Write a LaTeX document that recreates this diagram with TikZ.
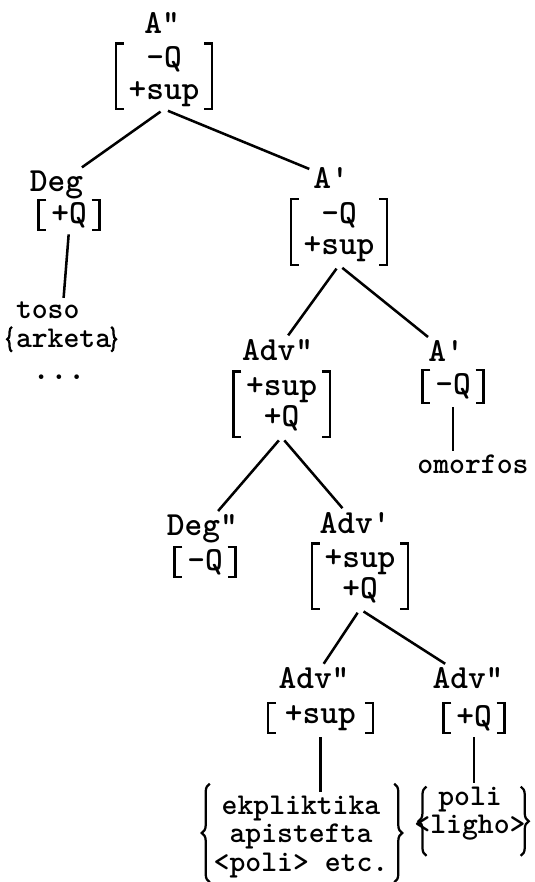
\documentclass[tikz,border=0pt]{standalone}
\usetikzlibrary{decorations.pathreplacing}

\newcommand{\fbrackets}[1]{%
  \draw[brk] ([xshift=0.2cm]#1.north west) -| (#1.south west) -- ++(0.2cm,0)
             ([xshift=-0.2cm]#1.north east) -| (#1.south east) -- ++(-0.2cm,0);}

\begin{document}
\begin{tikzpicture}[every node/.style={font=\fontsize{21.5}{20.5}\selectfont\ttfamily\bfseries, inner sep=0.1cm, outer sep=0pt},
  cat/.style={anchor=base, font=\fontsize{24}{22.5}\selectfont\ttfamily\bfseries},
  feat/.style={minimum height=#1, inner xsep=0.32cm, inner ysep=0pt, align=center, font=\fontsize{24}{22.5}\selectfont\ttfamily\bfseries},
  feat/.default=0.76cm,
  br/.style={line width=1.8pt, shorten <=3pt},
  brk/.style={line width=1.7pt},
  cbrace/.style={decorate, decoration={brace, amplitude=#1}, line width=1.6pt},
  cbrace/.default=0.2cm]
\useasboundingbox (0,0) rectangle (13.375,22.05);

\node[cat] (ahh) at (4.05,21.2) {A"};
\node[feat=1.64cm] (ahhF) at (4.10,20.14) {-Q\\+sup};
\node[cat] (deg) at (1.41,17.25) {Deg};
\node[feat] (degF) at (1.725,16.675) {+Q};
\node[anchor=west, align=left] (toso) at (0.3,13.93) {toso\\arketa};
\node[cat] (dots) at (1.475,12.55) {...};

\node[cat] (ap) at (8.275,17.34) {A\textquotesingle};
\node[feat=1.66cm] (apF) at (8.475,16.25) {-Q\\+sup};
\node[cat] (advhh) at (6.94,13.04) {Adv"};
\node[feat=1.64cm] (advhhF) at (7.04,11.94) {+sup\\+Q};
\node[cat] (apr) at (11.15,13.0) {A\textquotesingle};
\node[feat=0.82cm] (aprF) at (11.325,12.39) {-Q};
\node (omorfos) [anchor=base] at (11.825,10.2) {omorfos};

\node[cat] (degg) at (5.06,8.65) {Deg"};
\node[feat] (deggF) at (5.125,8.0) {-Q};
\node[cat] (advp) at (8.875,8.72) {Adv\textquotesingle};
\node[feat=1.64cm] (advpF) at (9.0,7.64) {+sup\\+Q};

\node[cat] (advhhl) at (7.85,4.83) {Adv"};
\node[feat, minimum width=2.62cm] (advhhlF) at (8.01,4.1) {+sup};
\node[cat] (advhhr) at (11.7,4.83) {Adv"};
\node[feat] (advhhrF) at (11.85,4.1) {+Q};
\node[align=center] (ekpl) at (7.525,1.125) {ekpliktika\\apistefta\\<poli> etc.};
\node[align=center] (poli) at (11.75,1.71) {poli\\<ligho>};

\fbrackets{ahhF}
\fbrackets{degF}
\fbrackets{apF}
\fbrackets{advhhF}
\fbrackets{aprF}
\fbrackets{deggF}
\fbrackets{advpF}
\fbrackets{advhhlF}
\fbrackets{advhhrF}

\draw[br] (ahhF.south) -- (deg);
\draw[br] (ahhF.south) -- (ap);
\draw[br] (degF.south) -- (toso.north);
\draw[br] (apF.south) -- (advhh);
\draw[br] (apF.south) -- (apr);
\draw[br] (aprF.south) -- (aprF.south |- omorfos.north);
\draw[br] (advhhF.south) -- (degg);
\draw[br] (advhhF.south) -- (advp);
\draw[br] (advpF.south) -- (advhhl);
\draw[br] (advpF.south) -- (advhhr);
\draw[br] (advhhlF.south) -- (advhhlF.south |- ekpl.north);
\draw[br] (advhhrF.south) -- (advhhrF.south |- poli.north);

\draw[cbrace=0.12cm] (toso.south west) -- ++(0,0.62);
\draw[cbrace=0.12cm] ([xshift=-0.1cm,yshift=0.62cm]toso.south east) -- ([xshift=-0.1cm]toso.south east);
\draw[cbrace] (ekpl.south west) -- ([yshift=0.2cm]ekpl.north west);
\draw[cbrace] ([xshift=0.05cm,yshift=0.2cm]ekpl.north east) -- ([xshift=0.05cm]ekpl.south east);
\draw[cbrace] ([xshift=0.4cm,yshift=-0.28cm]poli.south west) -- ([xshift=0.4cm,yshift=-0.1cm]poli.north west);
\draw[cbrace] ([xshift=-0.22cm,yshift=-0.1cm]poli.north east) -- ([xshift=-0.22cm,yshift=-0.28cm]poli.south east);
\end{tikzpicture}
\end{document}
